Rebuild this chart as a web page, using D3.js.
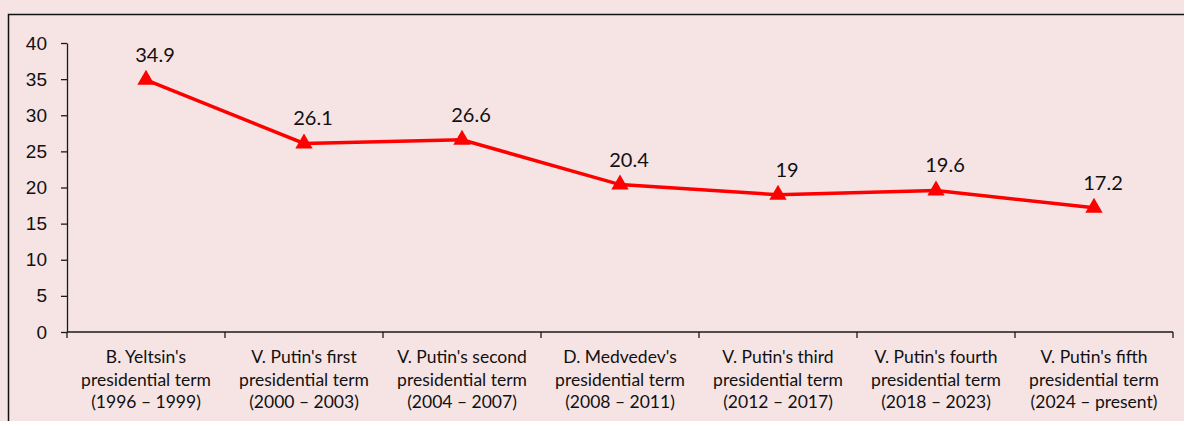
<!DOCTYPE html>
<html>
    <head>
        <meta charset="utf-8">
        <title>Presidential terms</title>
        <style>
body {
    margin: 0;
    background-color: #f6e4e4;
}

svg {
    display: block;
    font-family: Lato, "Noto Sans", sans-serif;
}

.axis path, .axis line {
    stroke: #1a1a1a;
    stroke-width: 1.3;
}

.axis text {
    fill: #111;
    font-size: 17.5px;
}

.axis.y text {
    font-size: 19px;
}

</style>
        <script src="https://cdnjs.cloudflare.com/ajax/libs/d3/7.8.5/d3.min.js"></script>
    </head>
    <body>
        <script>
var width = 1184,
    height = 421;

var categories = [
    ["B. Yeltsin's", "presidential term", "(1996 \u2013 1999)"],
    ["V. Putin's first", "presidential term", "(2000 \u2013 2003)"],
    ["V. Putin's second", "presidential term", "(2004 \u2013 2007)"],
    ["D. Medvedev's", "presidential term", "(2008 \u2013 2011)"],
    ["V. Putin's third", "presidential term", "(2012 \u2013 2017)"],
    ["V. Putin's fourth", "presidential term", "(2018 \u2013 2023)"],
    ["V. Putin's fifth", "presidential term", "(2024 \u2013 present)"]
];
var values = [34.9, 26.1, 26.6, 20.4, 19, 19.6, 17.2];
var yTicks = [0, 5, 10, 15, 20, 25, 30, 35, 40];

var svg = d3.select('body')
    .append('svg')
    .attr('width', width)
    .attr('height', height);

// frame (only top and left edges are visible in the picture)
svg.append('path')
    .attr('d', 'M8.5,' + height + 'V14.5H' + width)
    .attr('fill', 'none')
    .attr('stroke', '#111')
    .attr('stroke-width', 1.5);

var x = d3.scaleBand()
    .domain(d3.range(categories.length))
    .range([67, 1173]);

var y = d3.scaleLinear()
    .domain([0, 40])
    .range([332, 43]);

svg.append('g')
    .attr('class', 'axis y')
    .attr('transform', 'translate(67,0)')
    .call(d3.axisLeft(y).tickValues(yTicks).tickSize(6).tickSizeOuter(0).tickPadding(14));

var xAxis = svg.append('g')
    .attr('class', 'axis')
    .attr('transform', 'translate(0,332)');

xAxis.append('line')
    .attr('x1', x.range()[0]).attr('x2', x.range()[1]);

var ticks = d3.range(categories.length + 1).map(function (i) {
    return x.range()[0] + i * x.step();
});
xAxis.selectAll('line.tick')
    .data(ticks)
    .enter().append('line')
    .attr('class', 'tick')
    .attr('x1', function (d) { return d; })
    .attr('x2', function (d) { return d; })
    .attr('y1', 0).attr('y2', 6);

xAxis.selectAll('text.cat')
    .data(categories)
    .enter().append('text')
    .attr('class', 'cat')
    .attr('text-anchor', 'middle')
    .attr('x', function (d, i) { return x(i) + x.bandwidth() / 2; })
    .attr('y', 31)
    .selectAll('tspan')
    .data(function (d) { return d; })
    .enter().append('tspan')
    .attr('x', function () { return d3.select(this.parentNode).attr('x'); })
    .attr('dy', function (d, i) { return i === 0 ? 0 : 22.6; })
    .text(function (d) { return d; });

var cx = function (d, i) { return x(i) + x.bandwidth() / 2; };

var line = d3.line()
    .x(cx)
    .y(function (d) { return y(d); });

svg.append('path')
    .datum(values)
    .attr('d', line)
    .attr('fill', 'none')
    .attr('stroke', '#ff0000')
    .attr('stroke-width', 3.5);

svg.selectAll('path.marker')
    .data(values)
    .enter().append('path')
    .attr('class', 'marker')
    .attr('d', d3.symbol().type(d3.symbolTriangle).size(130))
    .attr('transform', function (d, i) { return 'translate(' + cx(d, i) + ',' + y(d) + ')'; })
    .attr('fill', '#ff0000');

svg.selectAll('text.label')
    .data(values)
    .enter().append('text')
    .attr('class', 'label')
    .attr('text-anchor', 'middle')
    .attr('x', function (d, i) { return cx(d, i) + 9; })
    .attr('y', function (d) { return y(d) - 18; })
    .attr('font-size', 20)
    .attr('fill', '#111')
    .text(function (d) { return d; });

        </script>
    </body>
</html>
